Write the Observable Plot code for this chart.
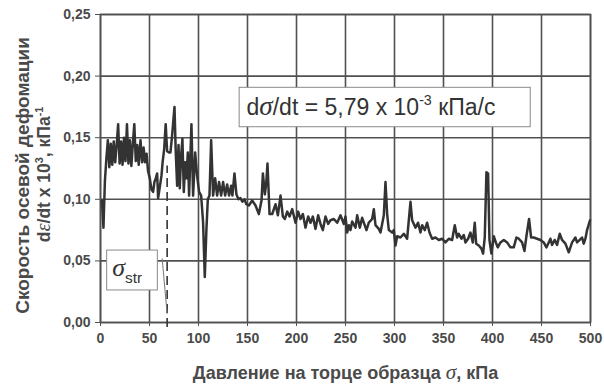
<!DOCTYPE html>
<html><head><meta charset="utf-8">
<script src="https://cdn.jsdelivr.net/npm/d3@7"></script>
<script src="https://cdn.jsdelivr.net/npm/@observablehq/plot@0.6"></script>
<style>html,body{margin:0;padding:0;background:#fff}#chart svg{display:block}</style>
</head><body><div id="chart"></div>
<script>
// Давление на торце образца σ, кПа
const pressure = [
1.5,3,4.5,6,7.5,9,10.5,12,13.5,15,16.5,18,19.5,21,22.5,24,25.5,27,28.5,30,31.5,33,34.5,36,37.5,39,40.8,42.5,44,45.5,47,48.5,50.3,52,53.7,55,56.4,57.8,58.8,60.5,62.2,63.5,65,66.5,68,70,
71.4,73.1,75.5,76.8,78.2,79.6,80.9,82.3,83.6,85,86.4,87.7,89.1,90.4,92.8,94.5,96.6,98.6,100.6,102.7,104.7,106.4,108.1,109.5,111.2,112.9,114.9,117,119,121,123.1,125.1,127.2,129.2,131.2,133.3,134.6,136.7,138.7,140.8,142.8,144.8,146.9,148.9,
151.4,154.8,158.2,161.6,164.3,165.7,167.7,169.1,170.4,172.5,175.2,178.6,181,183.7,186.1,188.1,190.5,192.9,195.6,199,201.7,204.1,206.5,209.2,211.9,214.3,216.7,219.4,222.1,224.5,226.9,229.6,232.3,
234.7,238.1,241.5,244.9,248.3,250,251.7,253.4,255.1,256.8,260.2,261.9,264.6,267,268.7,271.4,273.8,277.2,278.9,280.6,284,285.7,287.4,289.1,290.8,292.5,294.2,297.6,299.3,301,302.7,306.1,309.5,312.9,316.3,318,
321.4,324.1,326.5,328.2,330.9,333.3,335.7,338.4,341.8,345.2,348.6,352,355.4,358.8,361.5,363.9,365.6,368.3,370.7,372.4,375.1,377.5,379.9,381.9,383.3,386,388.7,390.4,392.1,393.8,395.5,396.9,398.9,
401.3,403.4,405.4,408.1,411.5,414.9,418.3,421.7,424.4,426.8,430.2,432.6,434.6,437.3,439.4,442.1,445.5,448.9,452.3,455,457.4,459.1,460.8,463.5,465.9,468.6,471,474.4,477.8,481.2,484.6,486.3,489,491.4,493.1,494.8,496.5,499.5
];
// Скорость осевой деформации dε/dt x 10^3, кПа^-1
const strainRate = [
0.099,0.077,0.115,0.133,0.148,0.126,0.145,0.128,0.147,0.13,0.144,0.161,0.129,0.147,0.128,0.15,0.131,0.161,0.129,0.148,0.127,0.145,0.161,0.131,0.144,0.128,0.148,0.13,0.142,0.13,0.137,0.123,0.117,0.108,0.106,0.114,0.117,0.121,0.101,0.11,0.119,0.131,0.141,0.161,0.139,0.138,
0.138,0.152,0.175,0.138,0.111,0.144,0.109,0.136,0.149,0.106,0.130,0.117,0.138,0.103,0.161,0.103,0.138,0.119,0.106,0.103,0.081,0.037,0.076,0.100,0.103,0.148,0.103,0.117,0.103,0.114,0.103,0.114,0.103,0.112,0.103,0.111,0.103,0.121,0.104,0.100,0.101,0.098,0.100,0.096,
0.095,0.099,0.095,0.088,0.099,0.121,0.104,0.113,0.129,0.088,0.088,0.096,0.087,0.103,0.086,0.084,0.090,0.086,0.092,0.081,0.090,0.084,0.088,0.077,0.086,0.081,0.086,0.076,0.087,0.080,0.075,0.086,0.080,
0.083,0.084,0.081,0.087,0.080,0.086,0.073,0.079,0.075,0.082,0.077,0.087,0.077,0.085,0.081,0.075,0.081,0.084,0.092,0.079,0.076,0.073,0.080,0.087,0.114,0.088,0.075,0.073,0.075,0.0625,0.070,0.069,0.072,0.068,0.098,0.083,
0.077,0.081,0.073,0.079,0.075,0.081,0.073,0.068,0.069,0.067,0.068,0.065,0.068,0.067,0.079,0.069,0.072,0.068,0.071,0.065,0.068,0.073,0.065,0.081,0.064,0.0625,0.060,0.056,0.069,0.122,0.121,0.067,0.056,
0.070,0.065,0.061,0.065,0.067,0.065,0.061,0.061,0.069,0.068,0.065,0.058,0.070,0.084,0.069,0.069,0.068,0.067,0.065,0.061,0.065,0.068,0.063,0.067,0.063,0.072,0.067,0.064,0.057,0.065,0.069,0.065,0.067,0.069,0.064,0.068,0.075,0.083
];
const xTicks = [0,50,100,150,200,250,300,350,400,450,500];
const yTicks = [0,0.05,0.10,0.15,0.20,0.25];
const xLabel = "Давление на торце образца {i:σ}, кПа";
const yLabel1 = "Скорость осевой дефомации";
const yLabel2 = "d{i:ε}/dt x 10^{3}, кПа^{-1}";
const rateLabel = "d{i:σ}/dt = 5,79 x 10^{-3} кПа/с";
const strLabel = "{i:σ}_{str}";
const sigmaStr = 68;

const data = pressure.map((x, i) => ({x, y: strainRate[i]}));
const ink = "#333";
const gridC = "#505050";
const txt = "#4a4a4a";

const plot = Plot.plot({
  width: 604, height: 386,
  marginLeft: 100, marginRight: 14, marginTop: 14, marginBottom: 64,
  style: {fontFamily: "'Liberation Sans', Arial, sans-serif", fontSize: "14px", fontWeight: "bold", background: "#fff", color: txt},
  x: {domain: [0, 500]},
  y: {domain: [0, 0.25]},
  marks: [
    Plot.gridX(xTicks, {stroke: gridC, strokeOpacity: 1, strokeWidth: 1.6}),
    Plot.gridY(yTicks, {stroke: gridC, strokeOpacity: 1, strokeWidth: 1.6}),
    Plot.frame({stroke: gridC, strokeWidth: 1.6}),
    Plot.rect([{x1: 142, x2: 439, y1: 0.1585, y2: 0.1905}], {x1: "x1", x2: "x2", y1: "y1", y2: "y2", fill: "white", stroke: "#8a8a8a", strokeWidth: 1}),
    Plot.rect([{x1: 6.8, x2: 58.5, y1: 0.026, y2: 0.0584}], {x1: "x1", x2: "x2", y1: "y1", y2: "y2", fill: "white", stroke: "#8a8a8a", strokeWidth: 1}),
    Plot.ruleX([sigmaStr], {y1: -0.004, y2: 0.127, stroke: ink, strokeWidth: 1.6, strokeDasharray: "9,5"}),
    Plot.link([{x1: 62.9, y1: 0.052, x2: 68, y2: 0.007}], {x1: "x1", y1: "y1", x2: "x2", y2: "y2", stroke: "#777", strokeWidth: 1}),
    Plot.line(data, {x: "x", y: "y", stroke: ink, strokeWidth: 2.5, strokeLinejoin: "round"}),
    Plot.text([rateLabel], {x: 149, y: 0.1745, textAnchor: "start", fontSize: 23, fontWeight: "normal", fill: ink}),
    Plot.text([strLabel], {x: 12, y: 0.0434, textAnchor: "start", fontSize: 22, fontWeight: "normal", fill: ink}),
    Plot.axisX({ticks: xTicks, tickSize: 4, tickPadding: 7, stroke: gridC, fill: txt, label: null, tickFormat: d => String(d)}),
    Plot.axisY({ticks: yTicks, tickSize: 5, tickPadding: 5, stroke: gridC, fill: txt, label: null, tickFormat: d => d.toFixed(2).replace(".", ",")}),
    Plot.text([xLabel], {frameAnchor: "bottom", dy: 56, fontSize: 18, fill: txt}),
    Plot.text([yLabel1], {frameAnchor: "left", textAnchor: "middle", dx: -78, dy: 7, rotate: -90, fontSize: 19, fill: txt}),
    Plot.text([yLabel2], {frameAnchor: "left", textAnchor: "middle", dx: -56, dy: 6, rotate: -90, fontSize: 17.5, fill: txt})
  ]
});
document.getElementById("chart").appendChild(plot);

// rich text: {i:..} italic serif symbol, ^{..} superscript, _{..} subscript
d3.select(plot).selectAll("text").each(function() {
  const t = this.textContent;
  if (!/\^\{|_\{|\{i:/.test(t)) return;
  const fs = parseFloat(this.getAttribute("font-size")) || parseFloat(getComputedStyle(this).fontSize) || 13;
  const parts = t.split(/(\^\{[^}]*\}|_\{[^}]*\}|\{i:[^}]*\})/).filter(s => s.length);
  const el = d3.select(this);
  el.text(null);
  let shift = 0;
  for (const p of parts) {
    let s = p, want = 0, size = fs, italic = false;
    if (p.startsWith("^{")) { s = p.slice(2, -1); want = -0.42 * fs; size = 0.62 * fs; }
    else if (p.startsWith("_{")) { s = p.slice(2, -1); want = 0.3 * fs; size = 0.7 * fs; }
    else if (p.startsWith("{i:")) { s = p.slice(3, -1); italic = true; size = 1.18 * fs; }
    const ts = el.append("tspan").text(s).attr("font-size", size);
    if (want - shift !== 0) ts.attr("dy", want - shift);
    shift = want;
    if (italic) ts.attr("font-style", "italic").attr("font-family", "'Liberation Serif', 'DejaVu Serif', serif").attr("font-weight", "normal");
  }
});
</script>
</body></html>
